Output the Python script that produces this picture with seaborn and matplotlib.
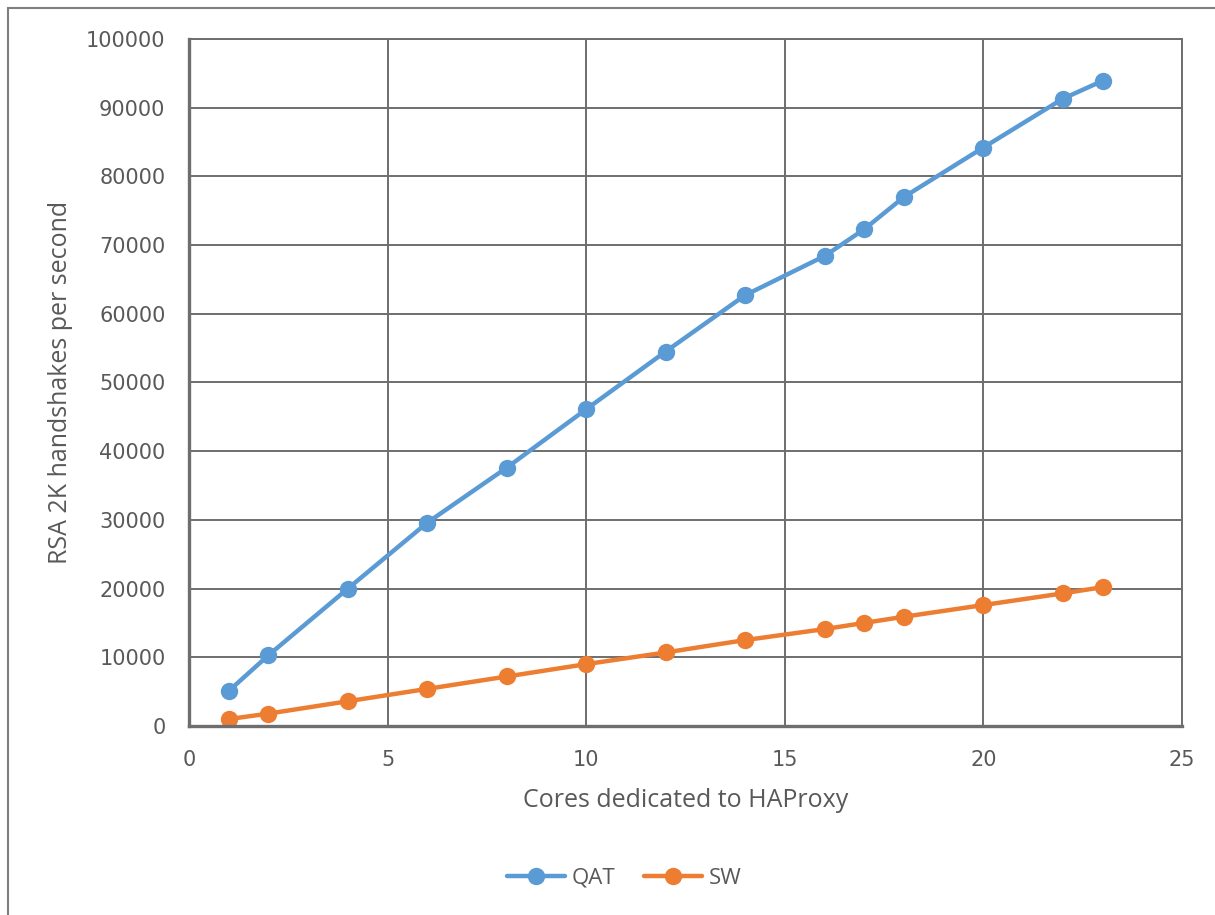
import matplotlib.pyplot as plt
import matplotlib.patches as mpatches
import seaborn as sns
import pandas as pd

# cores dedicated to HAProxy
cores = [1, 2, 4, 6, 8, 10, 12, 14, 16, 17, 18, 20, 22, 23]
qat = [5100, 10300, 20000, 29600, 37600, 46100, 54500, 62700, 68400, 72300, 77000, 84200, 91300, 93900]
sw = [1000, 1800, 3600, 5400, 7200, 9000, 10700, 12500, 14100, 15000, 15900, 17600, 19300, 20200]
series = ['QAT', 'SW']
colors = ['#5B9BD5', '#ED7D31']

df = pd.DataFrame({
    'cores': cores * 2,
    'value': qat + sw,
    'series': ['QAT'] * len(cores) + ['SW'] * len(cores),
})

sns.set_style('white')
text_color = '#595959'
grid_color = '#6e6e6e'

fig = plt.figure(figsize=(12.15, 9.15), dpi=100)
ax = fig.add_axes([0.1556, 0.2066, 0.8172, 0.7508])

sns.lineplot(data=df, x='cores', y='value', hue='series', hue_order=series,
             palette=colors, marker='o', markersize=12.5, markeredgewidth=0,
             linewidth=3.2, ax=ax, legend=False)

ax.set_xlim(0, 25)
ax.set_ylim(0, 100000)
ax.set_xticks(range(0, 26, 5))
ax.set_yticks(range(0, 100001, 10000))
ax.grid(True, color=grid_color, linewidth=1.4)
ax.set_axisbelow(True)
for side, sp in ax.spines.items():
    sp.set_color(grid_color)
    sp.set_linewidth(2.4 if side in ('left', 'bottom') else 1.4)
ax.tick_params(axis='both', length=0, pad=17, labelsize=15, labelcolor=text_color)
for lab in ax.get_xticklabels() + ax.get_yticklabels():
    lab.set_family('DejaVu Sans')

ax.set_xlabel('Cores dedicated to HAProxy', fontsize=18, color=text_color,
              family='Open Sans', labelpad=13)
ax.set_ylabel('RSA 2K handshakes per second', fontsize=18, color=text_color,
              family='Open Sans', labelpad=9)

handles = [plt.Line2D([], [], color=c, marker='o', markersize=12.5, linewidth=3.2,
                      markeredgewidth=0) for c in colors]
fig.legend(handles, series, loc='center', bbox_to_anchor=(0.514, 0.04), ncol=2,
           frameon=False, handlelength=2.6, columnspacing=1.3, handletextpad=0.3,
           prop={'family': 'Open Sans', 'size': 16}, labelcolor=text_color)

# outer frame of the chart area
fig.patches.append(mpatches.Rectangle((8 / 1215, -0.01), 1.02, 1 - 8 / 915 + 0.01,
                                      transform=fig.transFigure, fill=False,
                                      edgecolor='#7f7f7f', linewidth=1.5))

fig.savefig('out.png', dpi=100)
